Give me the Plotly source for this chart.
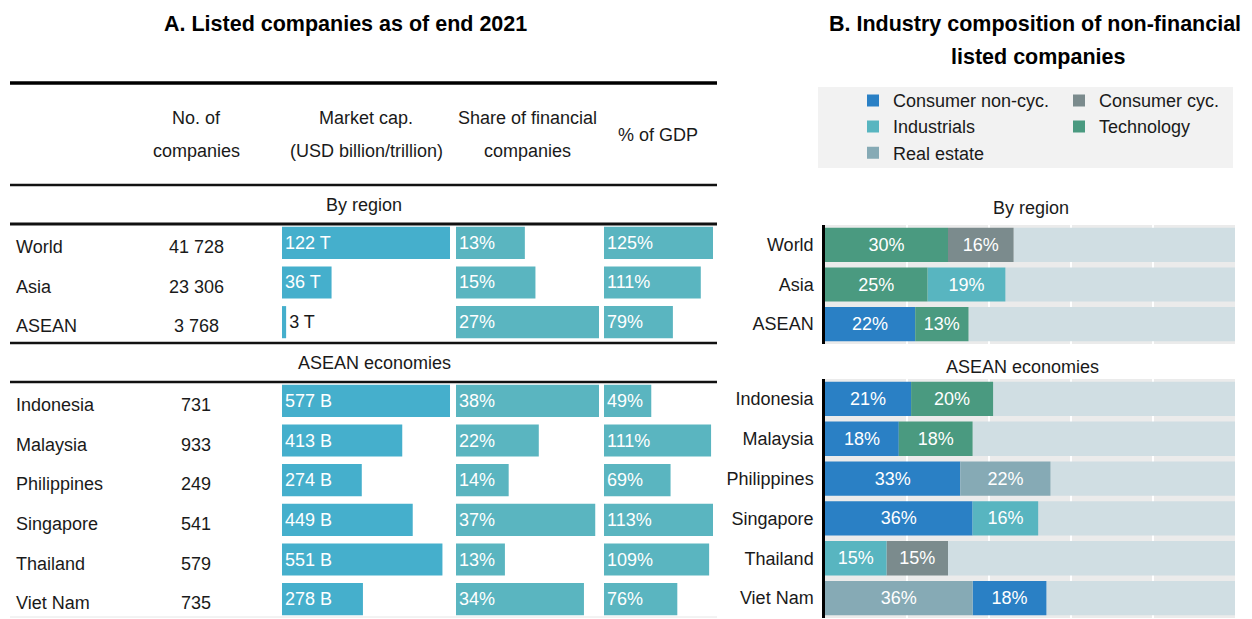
import plotly.graph_objects as go

# ---------------- Data ----------------
# Panel A: listed companies as of end 2021
region_names = ["World", "Asia", "ASEAN"]
region_companies = [41728, 23306, 3768]
region_mcap = [122, 36, 3]            # USD trillion
region_mcap_unit = " T"
region_fin_share = [13, 15, 27]       # %
region_gdp = [125, 111, 79]           # % of GDP

econ_names = ["Indonesia", "Malaysia", "Philippines", "Singapore", "Thailand", "Viet Nam"]
econ_companies = [731, 933, 249, 541, 579, 735]
econ_mcap = [577, 413, 274, 449, 551, 278]   # USD billion
econ_mcap_unit = " B"
econ_fin_share = [38, 22, 14, 37, 13, 34]
econ_gdp = [49, 111, 69, 113, 109, 76]

column_headers = ["No. of\ncompanies", "Market cap.\n(USD billion/trillion)",
                  "Share of financial\ncompanies", "% of GDP"]
section_titles = ["By region", "ASEAN economies"]
title_a = "A. Listed companies as of end 2021"
title_b = "B. Industry composition of non-financial\nlisted companies"

# Panel B: two largest sectors (share of non-financial listed companies, %)
sectors = ["Consumer non-cyc.", "Consumer cyc.", "Industrials", "Technology", "Real estate"]
region_top1_sector = ["Technology", "Technology", "Consumer non-cyc."]
region_top1_share = [30, 25, 22]
region_top2_sector = ["Consumer cyc.", "Industrials", "Technology"]
region_top2_share = [16, 19, 13]
econ_top1_sector = ["Consumer non-cyc.", "Consumer non-cyc.", "Consumer non-cyc.",
                    "Consumer non-cyc.", "Industrials", "Real estate"]
econ_top1_share = [21, 18, 33, 36, 15, 36]
econ_top2_sector = ["Technology", "Technology", "Real estate", "Industrials",
                    "Consumer cyc.", "Consumer non-cyc."]
econ_top2_share = [20, 18, 22, 16, 15, 18]

# ---------------- Styles ----------------
W, H = 1252, 619
def px(x): return x / W
def py(y): return 1 - y / H

FONT = "Liberation Sans, Arial, sans-serif"
FS = 18          # body text size
FS_T = 21.5      # title size
INK = "#1a1a1a"
MCAP_COLOR = "#45afcc"
PCT_COLOR = "#5ab5c0"
REST_COLOR = "#d0dee3"
PLOT_BG_B = "#ebebeb"
sector_colors = {
    "Consumer non-cyc.": "#2a80c5",
    "Consumer cyc.": "#7b8b8d",
    "Industrials": "#58b5c0",
    "Technology": "#4a9a80",
    "Real estate": "#86aab5",
}

def fmt_int(n):
    return f"{n:,}".replace(",", " ")

fig = go.Figure()
annotations = []
shapes = []

# ---------------- Panel A ----------------
col_dom = [(282, 450), (456, 599), (604, 713)]
sections_a = [
    dict(names=region_names, n=region_companies,
         cols=[(region_mcap, "%{value}" + region_mcap_unit, MCAP_COLOR),
               (region_fin_share, "%{value}%", PCT_COLOR),
               (region_gdp, "%{value}%", PCT_COLOR)],
         yaxis="y", xaxes=["x", "x2", "x3"], ydom=(223, 342)),
    dict(names=econ_names, n=econ_companies,
         cols=[(econ_mcap, "%{value}" + econ_mcap_unit, MCAP_COLOR),
               (econ_fin_share, "%{value}%", PCT_COLOR),
               (econ_gdp, "%{value}%", PCT_COLOR)],
         yaxis="y2", xaxes=["x4", "x5", "x6"], ydom=(381, 619)),
]

layout_axes = {}
for sec in sections_a:
    names = sec["names"]
    ykey = "yaxis" + sec["yaxis"][1:]
    layout_axes[ykey] = dict(domain=[py(sec["ydom"][1]), py(sec["ydom"][0])],
                             type="category", categoryarray=names,
                             range=[len(names) - 0.5, -0.5], visible=False,
                             anchor=sec["xaxes"][0], fixedrange=True)
    for (vals, tmpl, color), xa, dom in zip(sec["cols"], sec["xaxes"], col_dom):
        vmax = max(vals)
        pos = ["inside" if v / vmax > 0.15 else "outside" for v in vals]
        tcol = ["white" if p == "inside" else INK for p in pos]
        fig.add_trace(go.Bar(
            x=vals, y=names, orientation="h", xaxis=xa, yaxis=sec["yaxis"],
            width=0.81, marker=dict(color=color, line=dict(width=0)),
            texttemplate=tmpl, textposition=pos, insidetextanchor="start",
            textfont=dict(color=tcol, size=FS, family=FONT),
            constraintext="none", cliponaxis=False,
            showlegend=False, hoverinfo="skip"))
        xkey = "xaxis" + (xa[1:] if len(xa) > 1 else "")
        layout_axes[xkey] = dict(domain=[px(dom[0]), px(dom[1])], range=[0, vmax],
                                 visible=False, anchor=sec["yaxis"], fixedrange=True)
    # row labels and counts
    for name, n in zip(names, sec["n"]):
        annotations.append(dict(text=name, x=px(14), xref="paper", xanchor="left",
                                y=name, yref=sec["yaxis"], yshift=-4,
                                showarrow=False, font=dict(size=FS, color=INK, family=FONT)))
        annotations.append(dict(text=fmt_int(n), x=px(196), xref="paper", xanchor="center",
                                y=name, yref=sec["yaxis"], yshift=-4,
                                showarrow=False, font=dict(size=FS, color=INK, family=FONT)))

# column headers
head_x = [196, 366, 527, 658]
for txt, hx in zip(column_headers, head_x):
    lines = txt.split("\n")
    ys = [135] if len(lines) == 1 else [118, 151]
    for line, hy in zip(lines, ys):
        annotations.append(dict(text=line, x=px(hx), y=py(hy), xref="paper", yref="paper",
                                xanchor="center", yanchor="middle", showarrow=False,
                                font=dict(size=FS, color=INK, family=FONT)))
# section titles in panel A
for txt, (sx, sy) in zip(section_titles, [(364, 205), (375, 363)]):
    annotations.append(dict(text=txt, x=px(sx), y=py(sy), xref="paper", yref="paper",
                            xanchor="center", yanchor="middle", showarrow=False,
                            font=dict(size=FS, color=INK, family=FONT)))
# table rules
for yy, lw, col in [(83, 3.5, "#000"), (185, 2.5, "#111"), (224, 3, "#111"),
                    (343, 2.5, "#111"), (382, 2.5, "#111"), (617, 1, "#e6e6e6")]:
    shapes.append(dict(type="line", xref="paper", yref="paper", x0=px(10), x1=px(717),
                       y0=py(yy), y1=py(yy), line=dict(color=col, width=lw)))

# title A
annotations.append(dict(text="<b>" + title_a + "</b>", x=px(345), y=py(24), xref="paper",
                        yref="paper", xanchor="center", yanchor="middle", showarrow=False,
                        font=dict(size=FS_T, color="#000", family=FONT)))

# ---------------- Panel B ----------------
sections_b = [
    dict(names=region_names, s1=region_top1_sector, v1=region_top1_share,
         s2=region_top2_sector, v2=region_top2_share, xaxis="x7", yaxis="y3",
         ydom=(225, 344), legend=False),
    dict(names=econ_names, s1=econ_top1_sector, v1=econ_top1_share,
         s2=econ_top2_sector, v2=econ_top2_share, xaxis="x8", yaxis="y4",
         ydom=(379, 618), legend=True),
]
legend_ids = ["legend", "legend2", "legend3", "legend4", "legend5"]
legend_pos = [(895, 100.7), (1101, 100.7), (895, 126.7), (1101, 126.7), (895, 153)]

for sec in sections_b:
    names = sec["names"]
    used = [a + b for a, b in zip(sec["v1"], sec["v2"])]
    fig.add_trace(go.Bar(
        x=[100 - u for u in used], base=used, y=names, orientation="h",
        xaxis=sec["xaxis"], yaxis=sec["yaxis"], width=0.86,
        marker=dict(color=REST_COLOR, line=dict(width=0)),
        showlegend=False, hoverinfo="skip"))
    for s, lid in zip(sectors, legend_ids):
        xs, bases = [], []
        for i in range(len(names)):
            if sec["s1"][i] == s:
                xs.append(sec["v1"][i]); bases.append(0)
            elif sec["s2"][i] == s:
                xs.append(sec["v2"][i]); bases.append(sec["v1"][i])
            else:
                xs.append(None); bases.append(0)
        fig.add_trace(go.Bar(
            x=xs, base=bases, y=names, orientation="h", name=s,
            xaxis=sec["xaxis"], yaxis=sec["yaxis"], width=0.86,
            marker=dict(color=sector_colors[s], line=dict(width=0)),
            texttemplate="%{value}%", textposition="inside", insidetextanchor="middle",
            textfont=dict(color="white", size=FS, family=FONT), constraintext="none",
            legendgroup=s, legend=lid, showlegend=sec["legend"], hoverinfo="skip"))
    xkey = "xaxis" + sec["xaxis"][1:]
    ykey = "yaxis" + sec["yaxis"][1:]
    layout_axes[xkey] = dict(domain=[px(825), px(1235)], range=[0, 100], anchor=sec["yaxis"],
                             showgrid=True, gridcolor="white", gridwidth=2, dtick=20, tick0=0,
                             showticklabels=False, zeroline=False, showline=False, ticks="",
                             fixedrange=True)
    layout_axes[ykey] = dict(domain=[py(sec["ydom"][1]), py(sec["ydom"][0])], type="category",
                             categoryarray=names, range=[len(names) - 0.5, -0.5],
                             anchor=sec["xaxis"], showline=True, linecolor="#000", linewidth=2.5,
                             ticks="", ticklabelstandoff=5, showgrid=False, zeroline=False,
                             tickfont=dict(size=FS, color=INK, family=FONT), fixedrange=True)
    shapes.append(dict(type="rect", xref=sec["xaxis"] + " domain", yref=sec["yaxis"] + " domain",
                       x0=0, x1=1, y0=0, y1=1, fillcolor=PLOT_BG_B, line=dict(width=0),
                       layer="below"))

# section titles in panel B
for txt, (sx, sy) in zip(section_titles, [(1031, 208), (1022, 367)]):
    annotations.append(dict(text=txt, x=px(sx), y=py(sy), xref="paper", yref="paper",
                            xanchor="center", yanchor="middle", showarrow=False,
                            font=dict(size=FS, color=INK, family=FONT)))
# title B
for line, (tx, ty) in zip(title_b.split("\n"), [(1035, 24), (1038, 57)]):
    annotations.append(dict(text="<b>" + line + "</b>", x=px(tx), y=py(ty), xref="paper",
                            yref="paper", xanchor="center", yanchor="middle", showarrow=False,
                            font=dict(size=FS_T, color="#000", family=FONT)))
# legend box
shapes.append(dict(type="rect", xref="paper", yref="paper", x0=px(818), x1=px(1233),
                   y0=py(168), y1=py(87), fillcolor="#f2f2f2", line=dict(width=0), layer="below"))

legends = {}
for lid, (lx, ly) in zip(legend_ids, legend_pos):
    legends[lid] = dict(x=px(lx - 42), y=py(ly), xanchor="left", yanchor="middle",
                        xref="paper", yref="paper", bgcolor="rgba(0,0,0,0)",
                        borderwidth=0, orientation="v",
                        font=dict(size=FS, color=INK, family=FONT))

fig.update_layout(
    width=W, height=H, margin=dict(l=0, r=0, t=0, b=0),
    paper_bgcolor="white", plot_bgcolor="rgba(0,0,0,0)",
    barmode="overlay", font=dict(family=FONT, color=INK),
    annotations=annotations, shapes=shapes, **layout_axes, **legends,
)

fig.write_html("out.html", config={"displayModeBar": False},
               post_script="document.body.style.margin='0';document.body.style.overflow='hidden';")
